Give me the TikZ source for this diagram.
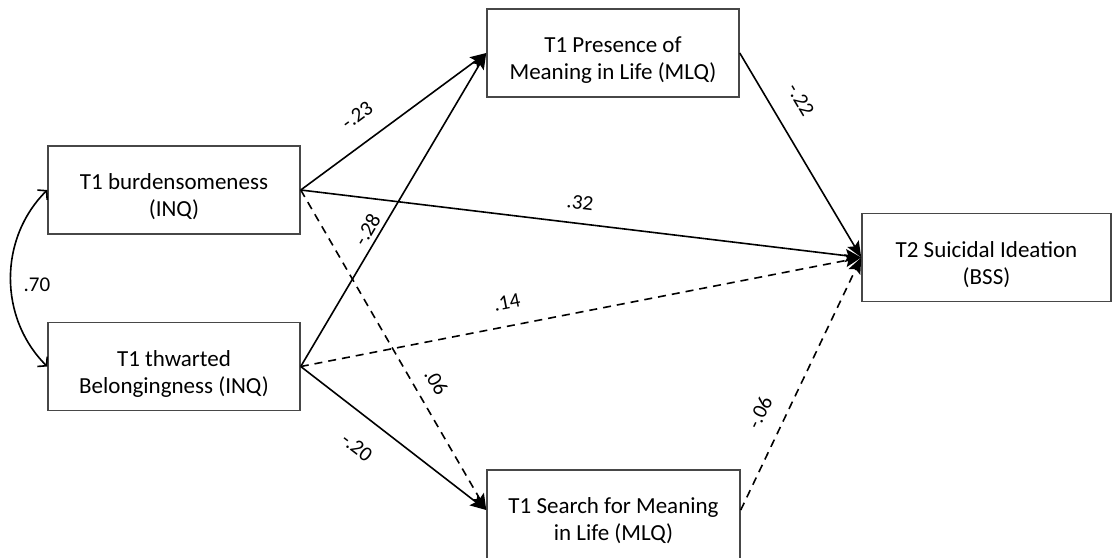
\documentclass[tikz,border=0pt]{standalone}
\usepackage{fontspec}
\setmainfont{Carlito}
\usetikzlibrary{arrows.meta}
\newcommand\tpad{\rule{0pt}{30pt}}
\begin{document}
\begin{tikzpicture}[x=1pt,y=-1pt,
  box/.style={draw=black!72, line width=1.5pt, inner sep=0pt, align=center,
    font=\fontsize{23}{27}\selectfont, minimum width=252pt, minimum height=88pt},
  conn/.style={line width=1.6pt, -{Stealth[length=16pt,width=13pt,inset=3pt]}},
  dconn/.style={conn, dash pattern=on 8pt off 6pt},
  lbl/.style={font=\fontsize{21}{24}\selectfont, inner sep=0pt, sloped},
  corr/.style={line width=1.6pt, {Straight Barb[length=6pt,width=14pt]}-{Straight Barb[length=6pt,width=14pt]}}]
\useasboundingbox (0,0) rectangle (1113,557);
\node[box] (burd) at (174,190) {\tpad T1 burdensomeness\\(INQ)};
\node[box] (thw) at (174,366.5) {\tpad T1 thwarted\\Belongingness (INQ)};
\node[box] (pres) at (613,53) {\tpad T1 Presence of\\Meaning in Life (MLQ)};
\node[box, minimum width=249pt] (sui) at (986.5,257.5) {\tpad T2 Suicidal Ideation\\(BSS)};
\node[box, minimum width=253pt, minimum height=96pt] (srch) at (613.5,518) {\rule{0pt}{22pt}T1 Search for Meaning\\in Life (MLQ)};

\draw[corr] (burd.west) to[bend right=45] (thw.west);
\node[font=\fontsize{21}{24}\selectfont, inner sep=0pt] (r70) at (37,285) {.70};

\draw[conn] (burd.east) -- node[lbl, pos=0.39, above=19pt] {-.23} (pres.west);
\draw[conn] (thw.east) -- node[lbl, pos=0.416, above=4.5pt] {-.28} (pres.west);
\draw[conn] (burd.east) -- node[lbl, pos=0.494, above=13pt] {.32} (sui.west);
\draw[dconn] (thw.east) -- node[lbl, pos=0.376, above=16pt] {.14} (sui.west);
\draw[dconn] (burd.east) -- node[lbl, pos=0.633, above=13pt] {.06} ([yshift=8pt]srch.west);
\draw[conn] (thw.east) -- node[lbl, pos=0.401, below=22pt] {-.20} ([yshift=8pt]srch.west);
\draw[conn] (pres.east) -- node[lbl, pos=0.30, above=21pt] {-.22} (sui.west);
\draw[dconn] ([yshift=8pt]srch.east) -- node[lbl, pos=0.344, above=17pt] {-.06} (sui.west);
\end{tikzpicture}
\end{document}
